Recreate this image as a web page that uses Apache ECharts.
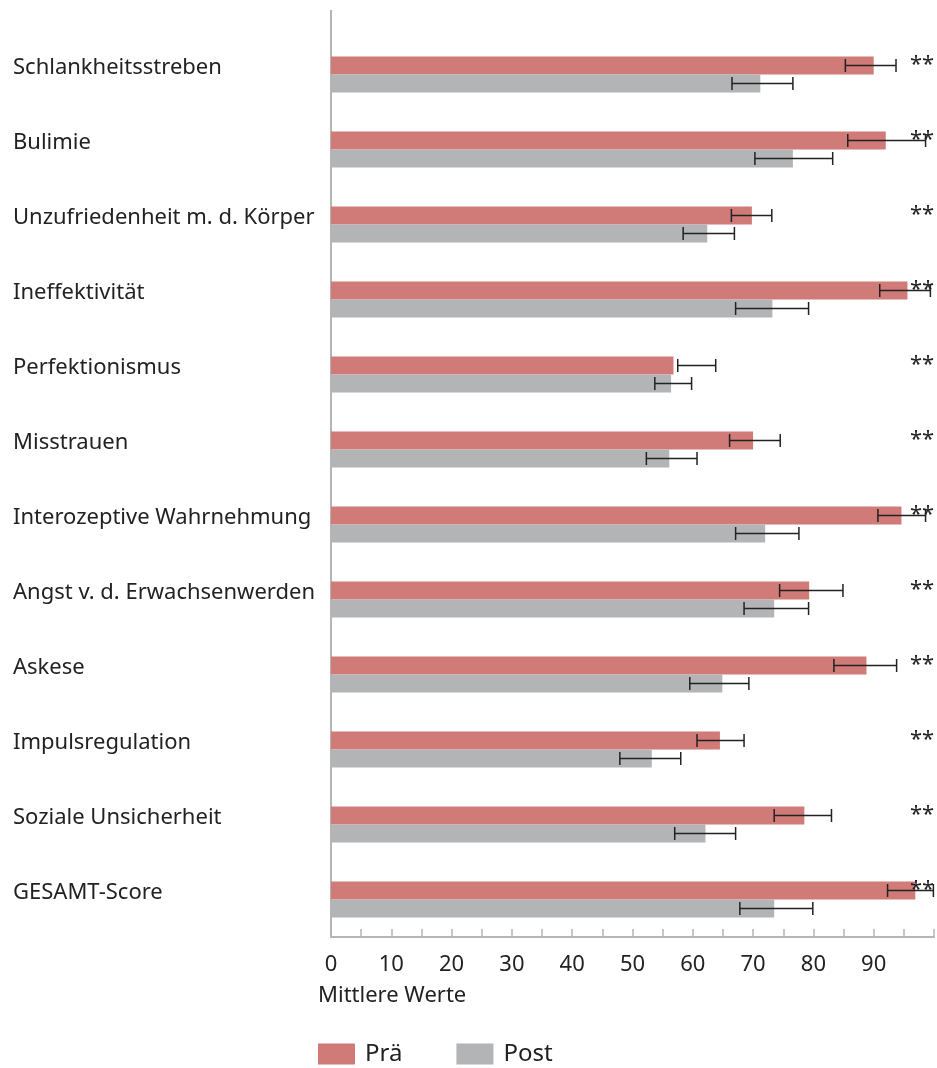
<!DOCTYPE html>
<html>
<head>
<meta charset="utf-8">
<script src="https://cdn.jsdelivr.net/npm/echarts@6/dist/echarts.min.js"></script>
<style>
  html, body { margin: 0; padding: 0; background: #fff; }
  #chart { width: 937px; height: 1068px; }
</style>
</head>
<body>
<div id="chart"></div>
<script>
const categories = [
  'Schlankheitsstreben',
  'Bulimie',
  'Unzufriedenheit m. d. Körper',
  'Ineffektivität',
  'Perfektionismus',
  'Misstrauen',
  'Interozeptive Wahrnehmung',
  'Angst v. d. Erwachsenwerden',
  'Askese',
  'Impulsregulation',
  'Soziale Unsicherheit',
  'GESAMT-Score'
];
const praeValues = [90.0, 92.0, 69.8, 95.6, 56.8, 70.0, 94.6, 79.3, 88.8, 64.5, 78.5, 96.9];
const postValues = [71.2, 76.6, 62.4, 73.2, 56.4, 56.1, 72.0, 73.5, 64.9, 53.2, 62.1, 73.5];
const praeErrLow = [85.3, 85.7, 66.4, 91.0, 57.5, 66.1, 90.7, 74.4, 83.4, 60.7, 73.5, 92.3];
const praeErrHigh = [93.7, 98.6, 73.1, 99.4, 63.8, 74.5, 98.6, 84.9, 93.8, 68.5, 83.0, 99.9];
const postErrLow = [66.5, 70.3, 58.4, 67.1, 53.7, 52.3, 67.1, 68.5, 59.5, 47.9, 57.0, 67.8];
const postErrHigh = [76.6, 83.2, 66.9, 79.2, 59.8, 60.7, 77.6, 79.2, 69.3, 58.0, 67.1, 79.9];
const significance = ['**', '**', '**', '**', '**', '**', '**', '**', '**', '**', '**', '**'];
const starsAt = 96;

const FONT = '"Noto Sans", sans-serif';
const RED = '#d07b78';
const GREY = '#b3b4b6';
const BAR_W = 18;

const chart = echarts.init(document.getElementById('chart'));

// error bar with caps, shifted to the bar of its series
function errorBar(shift) {
  return function (params, api) {
    const cat = api.value(0);
    const lo = api.coord([api.value(1), cat]);
    const hi = api.coord([api.value(2), cat]);
    const y = lo[1] + shift;
    const cap = 6.5;
    const style = { stroke: '#222', lineWidth: 1.5 };
    return {
      type: 'group',
      children: [
        { type: 'line', shape: { x1: lo[0], y1: y, x2: hi[0], y2: y }, style: style },
        { type: 'line', shape: { x1: lo[0], y1: y - cap, x2: lo[0], y2: y + cap }, style: style },
        { type: 'line', shape: { x1: hi[0], y1: y - cap, x2: hi[0], y2: y + cap }, style: style }
      ]
    };
  };
}

const option = {
  animation: false,
  textStyle: { fontFamily: FONT },
  grid: { left: 331, right: 1, top: 37, bottom: 131, containLabel: false },
  legend: {
    left: 313,
    top: 1037,
    itemWidth: 37,
    itemHeight: 21,
    itemGap: 54,
    icon: 'rect',
    data: ['Prä', 'Post'],
    textStyle: { fontSize: 24, color: '#222', fontFamily: FONT, padding: [0, 0, 0, 5] }
  },
  xAxis: {
    type: 'value',
    min: 0,
    max: 100,
    interval: 5,
    splitLine: { show: false },
    axisLine: { show: true, lineStyle: { color: '#b5b5b5', width: 2 } },
    axisTick: { show: true, inside: true, length: 8, lineStyle: { color: '#b5b5b5', width: 1.5 } },
    axisLabel: {
      margin: 17,
      fontSize: 22,
      color: '#222',
      fontFamily: FONT,
      formatter: function (v) { return (v % 10 === 0 && v < 100) ? String(v) : ''; }
    }
  },
  yAxis: {
    type: 'category',
    inverse: true,
    data: categories,
    axisLine: { show: true, lineStyle: { color: '#b5b5b5', width: 2 } },
    axisTick: { show: false },
    axisLabel: {
      align: 'left',
      verticalAlign: 'bottom',
      lineHeight: 14,
      margin: 318,
      fontSize: 22,
      color: '#222',
      fontFamily: FONT
    }
  },
  graphic: [
    { type: 'line', shape: { x1: 331, y1: 10, x2: 331, y2: 37 }, style: { stroke: '#b5b5b5', lineWidth: 2 } },
    { type: 'text', left: 318, top: 985, style: { text: 'Mittlere Werte', fontSize: 22, fill: '#222', fontFamily: FONT } }
  ],
  series: [
    {
      name: 'Prä',
      type: 'bar',
      data: praeValues,
      barWidth: BAR_W,
      barGap: '0%',
      itemStyle: { color: RED }
    },
    {
      name: 'Post',
      type: 'bar',
      data: postValues,
      barWidth: BAR_W,
      barGap: '0%',
      itemStyle: { color: GREY }
    },
    {
      type: 'custom',
      name: 'errPrae',
      renderItem: errorBar(-BAR_W / 2),
      encode: { x: [1, 2], y: 0 },
      data: categories.map((c, i) => [i, praeErrLow[i], praeErrHigh[i]]),
      clip: false,
      z: 5
    },
    {
      type: 'custom',
      name: 'errPost',
      renderItem: errorBar(BAR_W / 2),
      encode: { x: [1, 2], y: 0 },
      data: categories.map((c, i) => [i, postErrLow[i], postErrHigh[i]]),
      clip: false,
      z: 5
    },
    {
      type: 'custom',
      name: 'sig',
      renderItem: function (params, api) {
        const p = api.coord([starsAt, api.value(0)]);
        return {
          type: 'text',
          x: p[0],
          y: p[1] - BAR_W / 2 - 1,
          style: {
            text: significance[params.dataIndex],
            fontSize: 22,
            fill: '#222',
            fontFamily: FONT,
            align: 'left',
            verticalAlign: 'middle'
          }
        };
      },
      encode: { x: 1, y: 0 },
      data: categories.map((c, i) => [i, starsAt]),
      clip: false,
      z: 6
    }
  ]
};

chart.setOption(option);
</script>
</body>
</html>
